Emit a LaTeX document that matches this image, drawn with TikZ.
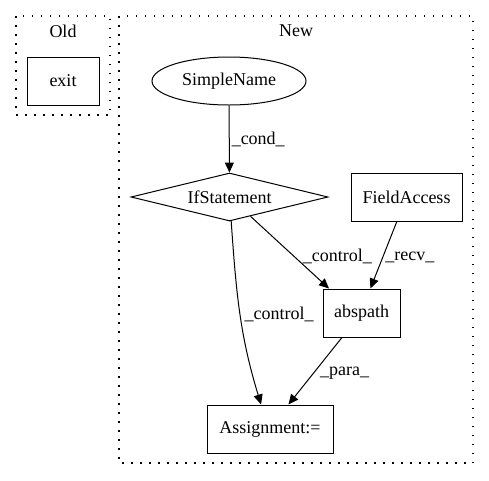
\documentclass[tikz,border=0pt]{standalone}
\usepackage{fontspec}
\setmainfont{Liberation Serif}
\usetikzlibrary{arrows.meta,shapes.geometric}

\begin{document}
\begin{tikzpicture}[x=1pt,y=-1pt,->,>={Triangle[length=10pt,width=9pt]},line width=1pt,
  font=\fontsize{18}{21}\selectfont,
  box node/.style={rectangle,draw,inner sep=0pt,minimum height=48pt}]

  \tikzstyle{cluster} = [draw,-,line width=1.2pt,dash pattern=on 1.5pt off 7.5pt]
  \tikzstyle{edge label} = [inner sep=2pt]

  \useasboundingbox (0,0) rectangle (489,480);

  % the two clusters
  \draw[cluster] (16,16) rectangle (110,115);
  \draw[cluster] (119,16) rectangle (473,463);
  \node (old) at (63,31) {Old};
  \node (new) at (296,31) {New};

  \node[box node,minimum width=72pt] (exit) at (63,81) {exit};
  \node[ellipse,draw,inner sep=0pt,minimum width=154pt,minimum height=48pt] (simplename) at (229,81) {SimpleName};
  \node[diamond,draw,aspect=4,inner sep=0pt,minimum width=197pt,minimum height=48pt] (ifstmt) at (229.5,197) {IfStatement};
  \node[box node,minimum width=111pt] (fieldaccess) at (406.5,197) {FieldAccess};
  \node[box node,minimum width=77pt] (abspath) at (361.5,313) {abspath};
  \node[box node,minimum width=126pt] (assign) at (270,429) {Assignment:=};

  \path
    (simplename) edge node[edge label,pos=0.5,right] {\_cond\_} (ifstmt)
    (ifstmt) edge node[edge label,pos=0.56,right,xshift=6pt] {\_control\_} (abspath.143)
        edge [out=-86,in=107] node[edge label,pos=0.5,right,xshift=2pt] {\_control\_} (assign.110) % curved one
    (fieldaccess) edge node[edge label,pos=0.53,right] {\_recv\_} (abspath.70)
    (abspath) edge node[edge label,pos=0.53,right,xshift=4pt] {\_para\_} (assign.53);
\end{tikzpicture}
\end{document}
